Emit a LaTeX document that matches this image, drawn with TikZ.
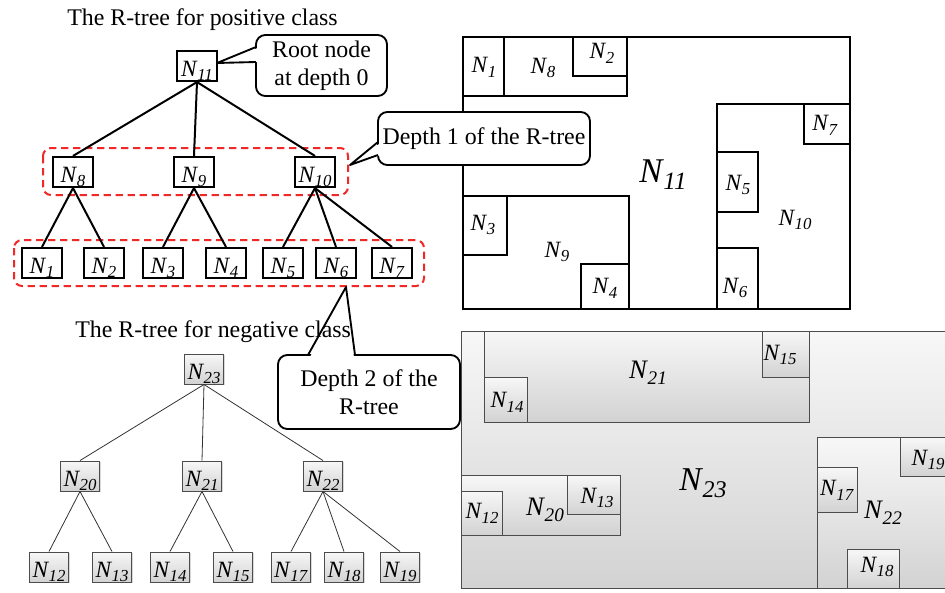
\documentclass[tikz,border=0pt]{standalone}
\usepackage{fontspec}
\setmainfont{Liberation Serif}
\usetikzlibrary{shadows}
\newcommand\NL[1]{\textit{N}\kern-0.02em\raisebox{-0.45ex}{\scalebox{0.72}{\textit{#1}}}}
\definecolor{dashred}{RGB}{240,40,40}
\tikzset{
 tbox/.style={draw, line width=1.6pt, minimum width=30pt, minimum height=22.5pt, inner sep=0pt, text height=15pt, text depth=0pt, font=\fontsize{17.5}{20}\selectfont, fill=white},
 gbox/.style={draw=black!70, line width=0.7pt, top color=gray!6, bottom color=gray!35, drop shadow={shadow xshift=1pt, shadow yshift=-1pt, opacity=0.3}},
 nbox/.style={gbox, minimum width=29pt, minimum height=22.5pt, inner sep=0pt, text height=15pt, text depth=0pt, font=\fontsize{17.5}{20}\selectfont},
 tedge/.style={line width=1.5pt},
 nedge/.style={line width=0.6pt, draw=black!80},
 grp/.style={draw=dashred, dash pattern=on 5.5pt off 3.5pt, line width=1.5pt, rounded corners=6pt},
 callout/.style={draw, line width=1.4pt, fill=white, rounded corners=7pt, align=center, font=\fontsize{17.9}{21}\selectfont, inner sep=0pt},
 rect/.style={line width=1.9pt},
 lab/.style={font=\fontsize{17.5}{20}\selectfont, inner sep=0pt},
 big/.style={font=\fontsize{26}{30}\selectfont, inner sep=0pt},
 mid/.style={font=\fontsize{20}{24}\selectfont, inner sep=0pt},
 ttl/.style={font=\fontsize{17.9}{21}\selectfont, inner sep=0pt, anchor=base west},
}
\begin{document}
\begin{tikzpicture}[x=0.75pt,y=-0.75pt]
\useasboundingbox (0,0) rectangle (945,592);
\clip (0,0) rectangle (945,592);

% ---------- right top: positive MBRs ----------
\draw[rect] (463,37) rectangle (850,309);
\draw[rect] (463,37) rectangle (627,96);
\draw[rect] (463,37) rectangle (504,96);
\draw[rect] (573,37) rectangle (627,76);
\draw[rect] (717,104) rectangle (850,309);
\draw[rect] (804,104) rectangle (850,144);
\draw[rect] (717,152) rectangle (758,212);
\draw[rect] (717,248) rectangle (758,309);
\draw[rect] (463,196) rectangle (629,309);
\draw[rect] (463,196) rectangle (507,255);
\draw[rect] (581,264) rectangle (629,309);
\node[lab] (r1) at (484,67) {\NL{1}};
\node[lab] (r8) at (543,68) {\NL{8}};
\node[lab] (r2) at (602,53) {\NL{2}};
\node[big] (r11) at (663,175) {\NL{11}};
\node[lab] (r7) at (825,125) {\NL{7}};
\node[lab] (r5) at (738,185) {\NL{5}};
\node[lab] (r10) at (795,220) {\NL{10}};
\node[lab] (r3) at (483,225) {\NL{3}};
\node[lab] (r9) at (557,252) {\NL{9}};
\node[lab] (r4) at (605,288) {\NL{4}};
\node[lab] (r6) at (735,288) {\NL{6}};

% ---------- right bottom: negative MBRs ----------
\path[gbox] (461,331) rectangle (960,588);
\path[gbox] (484,331) rectangle (809,422);
\path[gbox] (762,331) rectangle (809,377);
\path[gbox] (484,377) rectangle (527,422);
\path[gbox] (461,475) rectangle (620,535);
\path[gbox] (461,491) rectangle (502,535);
\path[gbox] (567,475) rectangle (620,514);
\path[gbox] (817,437) rectangle (960,588);
\path[gbox] (900,437) rectangle (960,476);
\path[gbox] (817,467) rectangle (857,512);
\path[gbox] (847,549) rectangle (899,588);
\node[mid] (s21) at (648,373) {\NL{21}};
\node[lab] (s15) at (780,355) {\NL{15}};
\node[lab] (s14) at (507,402) {\NL{14}};
\node[font=\fontsize{25}{29}\selectfont, inner sep=0pt] (s23) at (703,483) {\NL{23}};
\node[mid] (s20) at (545,510) {\NL{20}};
\node[lab] (s13) at (597,498) {\NL{13}};
\node[lab] (s12) at (482,513) {\NL{12}};
\node[mid] (s22) at (883,513) {\NL{22}};
\node[lab] (s17) at (837,490) {\NL{17}};
\node[lab] (s19) at (928,460) {\NL{19}};
\node[lab] (s18) at (877,567) {\NL{18}};

% ---------- positive R-tree ----------
\draw[grp] (43,148) rectangle (348,195);
\draw[grp] (14,240) rectangle (424,286);
\node[tbox] (N11) at (197,66) {\NL{11}};
\node[tbox] (N8) at (73,172) {\NL{8}};
\node[tbox] (N9) at (194,172) {\NL{9}};
\node[tbox] (N10) at (315,172) {\NL{10}};
\node[tbox] (N1) at (42,263) {\NL{1}};
\node[tbox] (N2) at (104,263) {\NL{2}};
\node[tbox] (N3) at (163,263) {\NL{3}};
\node[tbox] (N4) at (226,263) {\NL{4}};
\node[tbox] (N5) at (283,263) {\NL{5}};
\node[tbox] (N6) at (336,263) {\NL{6}};
\node[tbox] (N7) at (392,263) {\NL{7}};
\foreach \p/\c in {N11/N8,N11/N9,N11/N10,N8/N1,N8/N2,N9/N3,N9/N4,N10/N5,N10/N6,N10/N7}
  \draw[tedge] (\p.south) -- (\c.north);

% ---------- negative R-tree ----------
\node[nbox] (N23) at (204,369) {\NL{23}};
\node[nbox] (N20) at (80,476) {\NL{20}};
\node[nbox] (N21) at (202,476) {\NL{21}};
\node[nbox] (N22) at (323,476) {\NL{22}};
\node[nbox] (N12) at (49,567) {\NL{12}};
\node[nbox] (N13) at (112,567) {\NL{13}};
\node[nbox] (N14) at (170,567) {\NL{14}};
\node[nbox] (N15) at (233,567) {\NL{15}};
\node[nbox] (N17) at (291,567) {\NL{17}};
\node[nbox] (N18) at (344,567) {\NL{18}};
\node[nbox] (N19) at (400,567) {\NL{19}};
\foreach \p/\c in {N23/N20,N23/N21,N23/N22,N20/N12,N20/N13,N21/N14,N21/N15,N22/N17,N22/N18,N22/N19}
  \draw[nedge] (\p.south) -- (\c.north);

% ---------- callouts ----------
\node[callout, minimum width=98.25pt, minimum height=45.75pt] (c0) at (321.5,65.5) {Root node\\at depth 0};
\coordinate (t0) at (217,63);
\fill[white] (t0) -- (259,47.5) -- (259,62) -- cycle;
\draw[line width=1.4pt, line join=round] (256,47) -- (t0) -- (256,62);

\node[callout, minimum width=159pt, minimum height=39.75pt] (c1) at (484,138.5) {Depth 1 of the R-tree};
\coordinate (t1) at (350,165);
\fill[white] (t1) -- (381,142.5) -- (381,155) -- cycle;
\draw[line width=1.4pt, line join=round] (378,142) -- (t1) -- (378,155);

\node[callout, minimum width=136.5pt, minimum height=55.5pt] (c2) at (369,392) {Depth 2 of the\\R-tree};
\coordinate (t2) at (346,287);
\fill[white] (t2) -- (309.5,358) -- (354,358) -- cycle;
\draw[line width=1.4pt, line join=round] (308,355) -- (t2) -- (355,355);

% ---------- titles ----------
\node[ttl] (tp) at (67,26) {The R-tree for positive class};
\node[ttl] (tn) at (75,337) {The R-tree for negative class};
\end{tikzpicture}
\end{document}
